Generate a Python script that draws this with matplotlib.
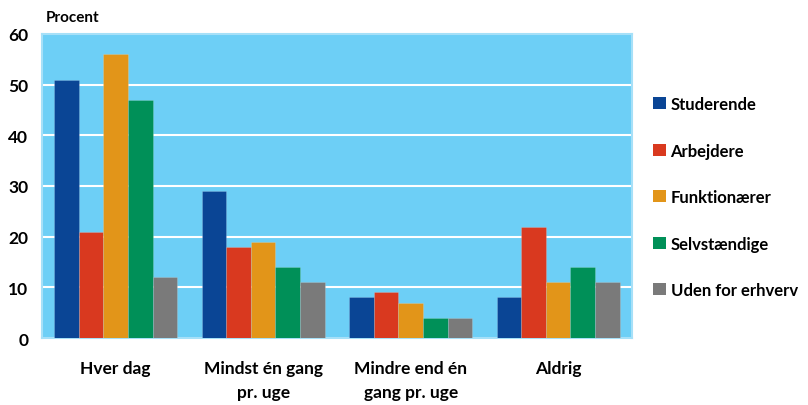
import matplotlib.pyplot as plt
import numpy as np
from matplotlib.patches import Patch

categories = ['Hver dag', 'Mindst én gang\npr. uge', 'Mindre end én\ngang pr. uge', 'Aldrig']
series = ['Studerende', 'Arbejdere', 'Funktionærer', 'Selvstændige', 'Uden for erhverv']
studerende = [51, 29, 8, 8]
arbejdere = [21, 18, 9, 22]
funktionaerer = [56, 19, 7, 11]
selvstaendige = [47, 14, 4, 14]
uden_for = [12, 11, 4, 11]
values = [studerende, arbejdere, funktionaerer, selvstaendige, uden_for]
colors = ['#0a4595', '#d9391f', '#e29519', '#009058', '#7a7a7a']
y_ticks = [0, 10, 20, 30, 40, 50, 60]

plt.rcParams['font.family'] = ['Lato', 'DejaVu Sans']
plt.rcParams['font.weight'] = 'bold'

fig = plt.figure(figsize=(8.08, 4.06), dpi=100)
ax = fig.add_axes([0.052, 0.165, 0.730, 0.749])
ax.set_facecolor('#6dcff6')

x = np.arange(len(categories))
width = 1 / 6
for i, (vals, col) in enumerate(zip(values, colors)):
    ax.bar(x + (i - 2) * width, vals, width, color=col, zorder=3,
           edgecolor='#ffffff30', linewidth=0.6)

ax.set_xlim(-0.5, 3.5)
ax.set_ylim(0, 60)
ax.set_yticks(y_ticks)
ax.set_yticklabels([str(t) for t in y_ticks], fontsize=12.5, fontweight='bold')
ax.set_xticks(x)
ax.set_xticklabels(categories, fontsize=12.5, fontweight='bold', linespacing=1.6)
ax.tick_params(axis='both', length=0)
ax.tick_params(axis='y', pad=10)
ax.tick_params(axis='x', pad=16)
for t in y_ticks[1:-1]:
    ax.axhline(t, color='white', lw=1.5, zorder=1)
for s in ax.spines.values():
    s.set_color('#a6e0f8')
    s.set_linewidth(1.5)

fig.text(0.057, 0.955, 'Procent', fontsize=11, fontweight='bold', ha='left', va='center')

handles = [Patch(facecolor=c, edgecolor='none') for c in colors]
fig.legend(handles, series, loc='upper left', bbox_to_anchor=(0.80, 0.777),
           frameon=False, fontsize=12, handlelength=0.75, handleheight=0.75,
           handletextpad=0.3, labelspacing=1.83, borderaxespad=0)

fig.savefig('out.png', dpi=100)
